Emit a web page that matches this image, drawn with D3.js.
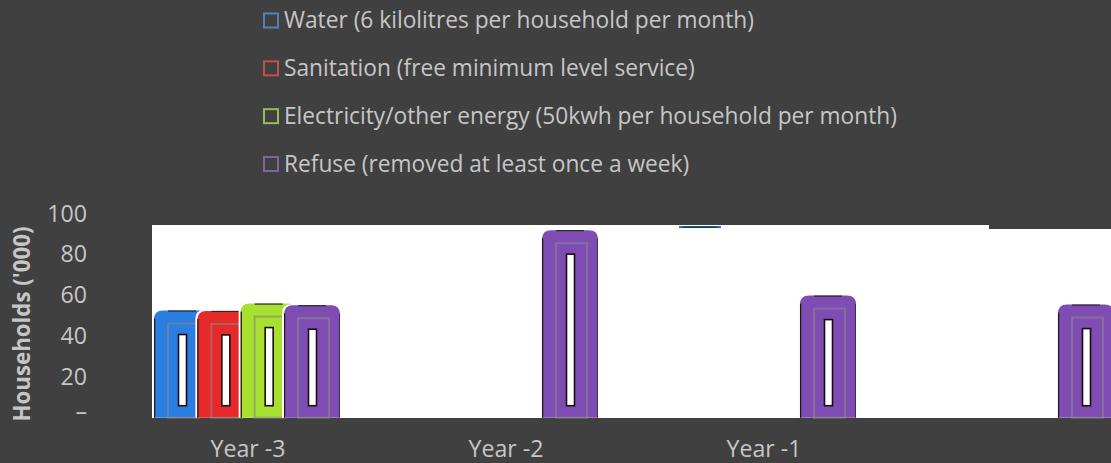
<!DOCTYPE html>
<html><head><meta charset="utf-8">
<script src="https://cdn.jsdelivr.net/npm/d3@7/dist/d3.min.js"></script>
<style>html,body{margin:0;padding:0;background:#404040;overflow:hidden}svg{display:block}</style>
</head><body>
<svg id="c" width="1111" height="463"></svg>
<script>
const categories = ["Year -3", "Year -2", "Year -1", "Year 0"];
const seriesNames = [
  "Water (6 kilolitres per household per month)",
  "Sanitation (free minimum level service)",
  "Electricity/other energy (50kwh per household per month)",
  "Refuse (removed at least once a week)"
];
const water       = [52.2, null, 93.1, null];
const sanitation  = [52.0, null, null, null];
const electricity = [55.6, null, null, null];
const refuse      = [54.8, 91.6, 59.5, 55.1];
const yTicks = [0, 20, 40, 60, 80, 100];
const yTickLabels = ["–", "20", "40", "60", "80", "100"];
const barColors = ["#2a7de1", "#e8292a", "#a7e02f", "#7f4cb4"];
const legendColors = ["#4f81bd", "#c0504d", "#9bbb59", "#8064a2"];

const series = [water, sanitation, electricity, refuse];
const svg = d3.select("#c");
const W = 1111, H = 463;
const font = "'Open Sans', 'Noto Sans', sans-serif";
const txtCol = "#c6c6c6";

const y = d3.scaleLinear().domain([0, 100]).range([417, 213]);
const x0 = d3.scaleBand().domain(categories).range([119, 1151]);
const xs = d3.scaleLinear().domain([0, 3]).range([-94, 36]);
const bw = 56;

// plot area
svg.append("rect").attr("x", 152).attr("y", 225).attr("width", W - 152).attr("height", 417 - 225 + 1).attr("fill", "#fff");
svg.append("rect").attr("x", 989).attr("y", 224).attr("width", W - 989).attr("height", 5).attr("fill", "#404040");

// legend
const leg = svg.append("g");
const legY = d3.scalePoint().domain(seriesNames).range([20.5, 164]);
seriesNames.forEach((n, i) => {
  const g = leg.append("g").attr("transform", `translate(0,${legY(n)})`);
  g.append("rect").attr("x", 264).attr("y", -7).attr("width", 14).attr("height", 14)
    .attr("fill", "none").attr("stroke", legendColors[i]).attr("stroke-width", 2);
  g.append("text").attr("x", 284).attr("y", 0).attr("dy", "0.35em")
    .attr("fill", txtCol).attr("font-family", font).attr("font-size", 20).text(n);
});
const t0 = leg.select("text").node().getComputedTextLength();
const fs = 20 * 470 / t0;
leg.selectAll("text").attr("font-size", fs);

// y axis labels
const ya = svg.append("g");
yTicks.forEach((v, i) => {
  ya.append("text").attr("x", 87).attr("y", y(v) + 0.5).attr("dy", v === 0 ? "0.1em" : "0.35em")
    .attr("text-anchor", "end").attr("fill", txtCol).attr("font-family", font)
    .attr("font-size", fs * 1.02).text(yTickLabels[i]);
});
svg.append("text").attr("transform", "translate(22,324) rotate(-90)").attr("dy", "0.35em")
  .attr("text-anchor", "middle").attr("fill", txtCol).attr("font-family", font)
  .attr("font-weight", "bold").attr("font-size", fs * 0.98).text("Households ('000)");

// x labels (only first three visible in reference)
categories.slice(0, 3).forEach(c => {
  svg.append("text").attr("x", x0(c) + x0.bandwidth() / 2).attr("y", 449).attr("dy", "0.35em")
    .attr("text-anchor", "middle").attr("fill", txtCol).attr("font-family", font)
    .attr("font-size", fs * 1.02).text(c);
});

function topRounded(x, yt, w, yb, r) {
  return `M${x},${yb} L${x},${yt + r} Q${x},${yt} ${x + r},${yt} L${x + w - r},${yt} Q${x + w},${yt} ${x + w},${yt + r} L${x + w},${yb} Z`;
}

const bars = svg.append("g");
const defs = svg.append("defs");
categories.forEach((c, ci) => {
  const cx = x0(c) + x0.bandwidth() / 2;
  series.forEach((s, si) => {
    const v = s[ci];
    if (v == null) return;
    const bx = cx + xs(si), yt = y(v), yb = y(0) + 0.7;
    if (ci === 2 && si === 0) {
      const lg = defs.append("linearGradient").attr("id", "gh");
      lg.append("stop").attr("offset", "0%").attr("stop-color", "#3a6ae0");
      lg.append("stop").attr("offset", "15%").attr("stop-color", "#114a55");
      lg.append("stop").attr("offset", "85%").attr("stop-color", "#114a55");
      lg.append("stop").attr("offset", "100%").attr("stop-color", "#3a6ae0");
      bars.append("rect").attr("x", bx + 9).attr("y", yt - 1).attr("width", bw - 14).attr("height", 2)
        .attr("fill", "url(#gh)");
      return;
    }
    const g = bars.append("g");
    g.append("path").attr("d", topRounded(bx - 2, yt - 1, bw + 2, yb, 9)).attr("fill", "#fff");
    g.append("path").attr("d", topRounded(bx, yt, bw, yb, 9)).attr("fill", barColors[si]);
    g.append("line").attr("x1", bx + 0.6).attr("x2", bx + 0.6).attr("y1", yt + 8).attr("y2", yb)
      .attr("stroke", "#1b1b1b").attr("stroke-width", 1.3);
    g.append("line").attr("x1", bx + bw - 0.5).attr("x2", bx + bw - 0.5).attr("y1", yt + 8).attr("y2", yb)
      .attr("stroke", "#3a2050").attr("stroke-width", 0.8);
    g.append("line").attr("x1", bx + 14).attr("x2", bx + 42).attr("y1", yt + 0.5).attr("y2", yt + 0.5)
      .attr("stroke", "#2a2a2a").attr("stroke-width", 1.2);
    g.append("rect").attr("x", bx + 14).attr("y", yt + 13).attr("width", 31).attr("height", yb - yt - 13)
      .attr("fill", "none").attr("stroke", "rgba(135,135,135,0.6)").attr("stroke-width", 2);
    g.append("rect").attr("x", bx + 24.5).attr("y", yt + 24).attr("width", 8).attr("height", (yb - 12) - (yt + 24))
      .attr("fill", "#fff").attr("stroke", "#1a0d12").attr("stroke-width", 1.6);
  });
});
</script>
</body></html>
